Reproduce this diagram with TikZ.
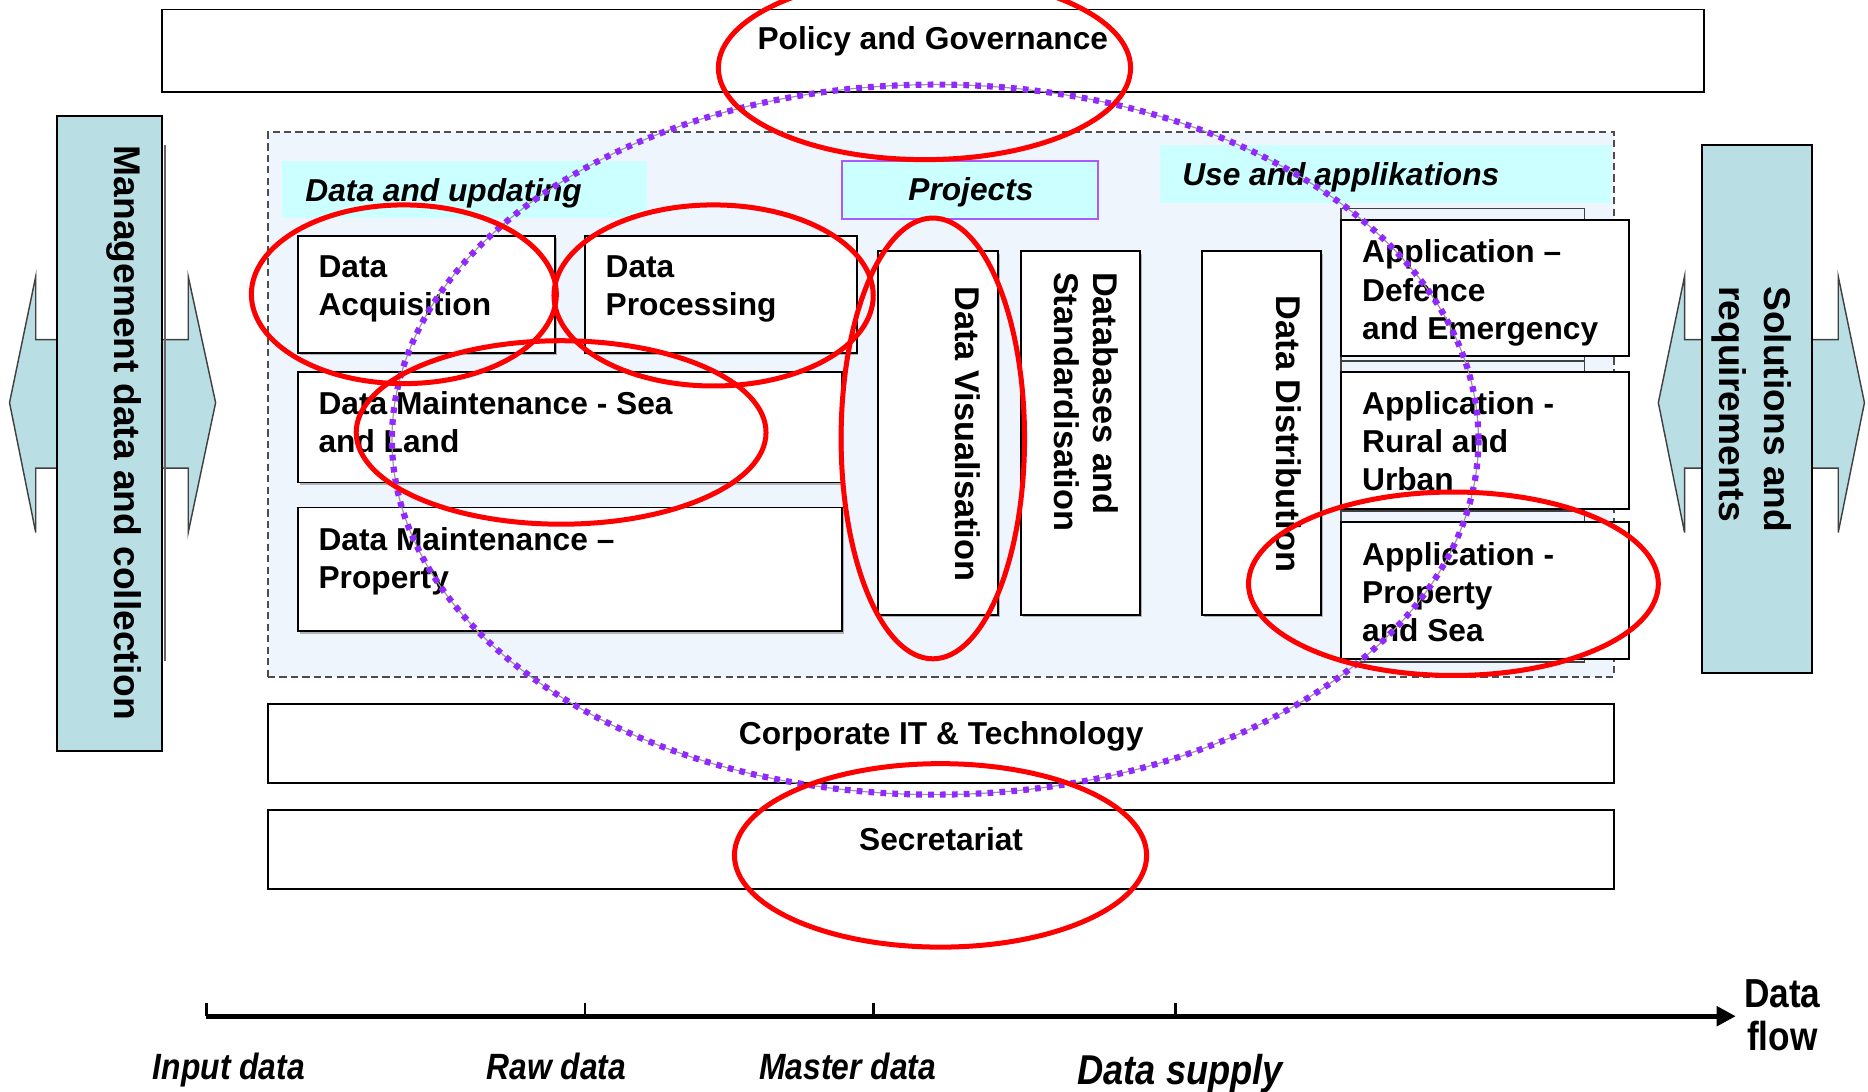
\documentclass[tikz,border=0pt]{standalone}
\usepackage{fontspec}
\setmainfont{Liberation Sans}
\newfontfamily\narrowfont[FakeStretch=0.87]{Liberation Sans}
\usetikzlibrary{fit,calc,arrows.meta,shadows}
\definecolor{arrowblue}{RGB}{185,222,228}
\definecolor{labelcyan}{RGB}{204,255,255}
\definecolor{regionblue}{RGB}{238,245,252}
\definecolor{violetline}{RGB}{170,90,250}
\definecolor{dotpurple}{RGB}{145,40,255}
\definecolor{ringred}{RGB}{255,0,0}
\begin{document}
\begin{tikzpicture}[x=0.5pt,y=-0.5pt,
  frame/.style={draw=black,line width=0.8pt,fill=white,inner sep=0pt,outer sep=0pt},
  inbox/.style={frame,drop shadow={shadow xshift=0.8pt,shadow yshift=-1pt,opacity=0.55}},
  shbox/.style={frame,fill=regionblue,draw=black!75},
  lblbox/.style={fill=labelcyan,inner sep=0pt,outer sep=0pt},
  projbox/.style={fill=labelcyan,draw=violetline,line width=0.8pt,inner sep=0pt,outer sep=0pt},
  region/.style={fill=regionblue,draw=black!70,line width=0.7pt,dash pattern=on 3pt off 1.8pt,inner sep=0pt,outer sep=0pt},
  column/.style={frame,fill=arrowblue},
  blockarrow/.style={fill=arrowblue,draw=black!75,line width=0.6pt,line join=miter},
  txt/.style={inner sep=0pt,align=left,font=\fontsize{13.3}{16}\selectfont\bfseries},
  ltxt/.style={inner sep=0pt,font=\fontsize{13.3}{16}\selectfont\bfseries\itshape},
  vtxt/.style={inner sep=0pt,align=left,rotate=-90,font=\fontsize{14.4}{16.5}\selectfont\bfseries},
  sidetxt/.style={inner sep=0pt,align=left,rotate=-90,font=\fontsize{15.6}{19}\selectfont\bfseries},
  axtxt/.style={inner sep=0pt,font=\narrowfont\bfseries\itshape\fontsize{15.35}{18}\selectfont},
  bigaxtxt/.style={inner sep=0pt,font=\narrowfont\bfseries\itshape\fontsize{17.5}{20}\selectfont},
  flowtxt/.style={inner sep=0pt,align=center,font=\narrowfont\bfseries\fontsize{17}{18}\selectfont},
  ring/.style={draw=ringred,line width=2.1pt},
  dotring/.style={draw=dotpurple,line width=2.6pt,line cap=butt,dash pattern=on 2.4pt off 2.6pt},
  axisline/.style={line width=2pt,-{Triangle[length=8pt,width=8pt]}},
  tickline/.style={line width=1.2pt}
]
\useasboundingbox (0,0) rectangle (1568,916);
\clip (0,0) rectangle (1568,916);
\fill[white] (0,0) rectangle (1568,916);

% top policy box
\node[frame,fit={(136,8) (1430,77)}] (policy) {};
\node[txt,anchor=base] (tpolicy) at (783,41.5) {Policy and Governance};

% dashed region
\node[region,fit={(225,111) (1355,568)}] (region) {};

% header labels
\node[lblbox,fit={(237,135) (543,183)}] (lblupd) {};
\node[ltxt,anchor=base west] (tupd) at (256,169.5) {Data and updating};
\node[projbox,fit={(707,135) (922,184)}] (lblproj) {};
\node[ltxt,anchor=base] (tproj) at (815,168.5) {Projects};
\node[lblbox,fit={(974,122) (1352,170)}] (lbluse) {};
\node[ltxt,anchor=base west] (tuse) at (992,155.5) {Use and applikations};

% data boxes
\node[inbox,fit={(250,198) (466,296)}] (acq) {};
\node[txt,anchor=north west] (tacq) at (267,214) {Data\\Acquisition};
\node[inbox,fit={(491,198) (719,296)}] (proc) {};
\node[txt,anchor=north west] (tproc) at (508,214) {Data\\Processing};
\node[inbox,fit={(250,312) (707,405)}] (mseal) {};
\node[txt,anchor=north west] (tmseal) at (267,328) {Data Maintenance - Sea\\and Land};
\node[inbox,fit={(250,426) (707,530)}] (mprop) {};
\node[txt,anchor=north west] (tmprop) at (267,442) {Data Maintenance –\\Property};

% vertical boxes
\node[inbox,fit={(737,211) (838,516)}] (vis) {};
\node[vtxt,anchor=base west] (tvis) at (801.7,240) {Data Visualisation};
\node[inbox,fit={(857,211) (957,516)}] (dbs) {};
\node[vtxt,anchor=north west] (tdbs) at (939,228) {Databases and\\Standardisation};
\node[inbox,fit={(1009,211) (1109,516)}] (dist) {};
\node[vtxt,anchor=base west] (tdist) at (1071.7,248) {Data Distribution};

% application boxes
\node[shbox,fit={(1126,175) (1330,303)}] (sha) {};
\node[shbox,fit={(1126,303) (1330,430)}] (shb) {};
\node[shbox,fit={(1126,429) (1330,556)}] (shc) {};
\node[frame,fit={(1126,185) (1367,299)}] (appa) {};
\node[txt,anchor=north west] (tappa) at (1143,201) {Application –\\Defence\\and Emergency};
\node[frame,fit={(1126,312) (1367,427)}] (appb) {};
\node[txt,anchor=north west] (tappb) at (1143,328) {Application -\\Rural and\\Urban};
\node[frame,fit={(1126,438) (1367,553)}] (appc) {};
\node[txt,anchor=north west] (tappc) at (1143,455) {Application -\\Property\\and Sea};

% bottom boxes
\node[frame,fit={(225,591) (1355,657)}] (corp) {};
\node[txt,anchor=base] (tcorp) at (790,625) {Corporate IT \& Technology};
\node[frame,fit={(225,680) (1355,746)}] (secr) {};
\node[txt,anchor=base] (tsecr) at (790,714) {Secretariat};

% left side block arrow and column
\draw[blockarrow] (8,338) -- (30,232) -- (30,285) -- (158,285) -- (158,232) -- (181,338)
  -- (158,447) -- (158,393) -- (30,393) -- (30,447) -- cycle;
\draw[black!60,line width=1pt] (138.5,122) -- (138.5,555);
\node[column,fit={(48,97) (136,630)}] (mgmt) {};
\node[sidetxt,anchor=base west] (tmgmt) at (95.8,122) {Management data and collection};

% right side block arrow and column
\draw[blockarrow] (1392,338) -- (1414,232) -- (1414,285) -- (1543,285) -- (1543,232) -- (1565,338)
  -- (1543,447) -- (1543,393) -- (1414,393) -- (1414,447) -- cycle;
\node[column,fit={(1429,122) (1521,565)}] (solu) {};
\node[sidetxt,anchor=north west] (tsolu) at (1504.4,240) {Solutions and\\requirements};

% purple dotted ellipse
\draw[black!40,line width=0.5pt] (785,369) ellipse (456 and 298);
\draw[dotring] (785,369) ellipse (456 and 298);

% red ellipses
\draw[ring] (776,57) ellipse (173 and 77);
\draw[ring] (339,247) ellipse (128 and 75);
\draw[ring] (599,248) ellipse (134 and 76);
\draw[ring] (471,363) ellipse (172 and 77);
\draw[ring] (783,368) ellipse (77 and 185);
\draw[ring] (1220,490) ellipse (172 and 77);
\draw[ring] (789.5,718) ellipse (173 and 77);

% data flow axis
\coordinate (ax0) at (173,853);
\coordinate (ax1) at (1457,853);
\coordinate (tk1) at (491,853);
\coordinate (tk2) at (733,853);
\coordinate (tk3) at (987,853);
\draw[axisline] (ax0) -- (ax1);
\draw[tickline] (ax0) -- ++(0,-11);
\draw[tickline] (tk1) -- ++(0,-11);
\draw[tickline] (tk2) -- ++(0,-11);
\draw[tickline] (tk3) -- ++(0,-11);
\node[axtxt,anchor=base west] (lin) at (128,906) {Input data};
\node[axtxt,anchor=base west] (lraw) at (408,906) {Raw data};
\node[axtxt,anchor=base west] (lmas) at (637,906) {Master data};
\node[bigaxtxt,anchor=base west] (lsup) at (904,910) {Data supply};
\node[flowtxt,anchor=north] (lflow) at (1496,822) {Data\\flow};
\end{tikzpicture}
\end{document}
